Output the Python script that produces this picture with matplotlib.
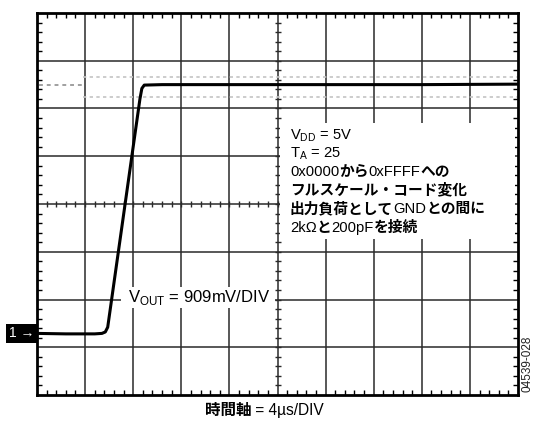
import matplotlib
matplotlib.use('Agg')
import matplotlib.pyplot as plt
import numpy as np
from matplotlib.patches import Rectangle
from matplotlib.ticker import MultipleLocator

plt.rcParams['font.family'] = ['Liberation Sans', 'Noto Sans CJK JP']
plt.rcParams['mathtext.fontset'] = 'custom'
plt.rcParams['mathtext.rm'] = 'Liberation Sans'

# trace in screen divisions (x: 10 div, y: 8 div)
trace_x = [0.0, 0.6, 1.2, 1.35, 1.42, 1.47, 2.14, 2.18, 2.23, 2.6, 5.0, 8.0, 10.0]
trace_y = [1.29, 1.28, 1.28, 1.29, 1.32, 1.42, 6.20, 6.42, 6.49, 6.50, 6.50, 6.50, 6.51]

# faint dotted reference levels
ref_hi, ref_lo, ref_mid = 6.66, 6.24, 6.49

info_lines = [
    [('V$_{\\mathrm{DD}}$ = 5V', 'normal')],
    [('T$_{\\mathrm{A}}$ = 25', 'normal')],
    [('0x0000', 'normal'), ('から', 'bold'), ('0xFFFF', 'normal'), ('への', 'bold')],
    [('フルスケール・コード変化', 'bold')],
    [('出力負荷として', 'bold'), ('GND', 'normal'), ('との間に', 'bold')],
    [('2kΩ', 'normal'), ('と', 'bold'), ('200pF', 'normal'), ('を接続', 'bold')],
]
info_base = [5.36, 4.97, 4.59, 4.20, 3.81, 3.42]

fig = plt.figure(figsize=(5.39, 4.23), dpi=100)
ax = fig.add_axes([37 / 539, 1 - 395 / 423, 481 / 539, 382 / 423])
ax.set_xlim(0, 10)
ax.set_ylim(0, 8)

grid_c = '#2a2a2a'
for i in range(1, 10):
    ax.axvline(i, color=grid_c, lw=1.1, zorder=1)
for j in range(1, 8):
    ax.axhline(j, color=grid_c, lw=1.1, zorder=1)

# ticks on the centre lines
ax.plot(np.arange(0.2, 10, 0.2), np.full(49, 4.0), ls='none', marker='|',
        ms=4.5, mew=1.0, color=grid_c, zorder=1.5)
ax.plot(np.full(39, 5.0), np.arange(0.2, 8, 0.2), ls='none', marker='_',
        ms=4.5, mew=1.0, color=grid_c, zorder=1.5)

# border ticks
ax.xaxis.set_major_locator(MultipleLocator(1))
ax.yaxis.set_major_locator(MultipleLocator(1))
ax.xaxis.set_minor_locator(MultipleLocator(0.2))
ax.yaxis.set_minor_locator(MultipleLocator(0.2))
ax.tick_params(which='both', direction='in', top=True, right=True,
               labelbottom=False, labelleft=False, color='black')
ax.tick_params(which='major', length=0)
ax.tick_params(which='minor', length=3.5, width=1.0)
for sp in ax.spines.values():
    sp.set_linewidth(2.0)
    sp.set_zorder(5)

# dotted reference levels
ax.plot([0.96, 10], [ref_hi, ref_hi], ls=(0, (2, 2)), color='#c4c4c4', lw=1.2, zorder=1.2)
ax.plot([0.96, 10], [ref_lo, ref_lo], ls=(0, (2, 2)), color='#c4c4c4', lw=1.2, zorder=1.2)
ax.plot([0.05, 0.96], [ref_mid, ref_mid], ls=(0, (2, 2)), color='#a0a0a0', lw=1.4, zorder=1.2)

# waveform
ax.plot(trace_x, trace_y, color='black', lw=2.2, solid_capstyle='round',
        solid_joinstyle='round', zorder=3)

# white label areas
ax.add_patch(Rectangle((5.06, 3.27), 4.87, 2.43, facecolor='white', edgecolor='none', zorder=2))
ax.add_patch(Rectangle((1.75, 1.82), 3.2, 0.44, facecolor='white', edgecolor='none', zorder=2))


def rich_line(x, y, parts, size):
    t = ax.text(x, y, parts[0][0], fontsize=size, fontweight=parts[0][1],
                va='baseline', ha='left', zorder=4)
    for s, w in parts[1:]:
        t = ax.annotate(s, xy=(1, 0), xycoords=t, va='bottom', ha='left',
                        fontsize=size, fontweight=w, zorder=4)
    return t


for parts, yb in zip(info_lines, info_base):
    rich_line(5.26, yb, parts, 10.6)

ax.text(1.9, 2.04, 'V$_{\\mathrm{OUT}}$ = 909mV/DIV', fontsize=12,
        va='center', ha='left', zorder=4)

# channel marker
ax.text(-0.05, 1.29, '1 →', fontsize=10, color='white', va='center', ha='right',
        zorder=6, clip_on=False,
        bbox=dict(boxstyle='square,pad=0.2', facecolor='black', edgecolor='none'))

# time base label
t0 = fig.text(0.38, 0.019, '時間軸', fontsize=11.2, fontweight='bold', va='baseline', ha='left')
ax.annotate(' = 4µs/DIV', xy=(1, 0), xycoords=t0, va='bottom', ha='left',
            fontsize=11.2, annotation_clip=False)

fig.text(0.978, 0.14, '04539-028', fontsize=8.5, rotation=90, va='center', ha='center',
         color='#222222')

fig.savefig('out.png', dpi=100)
